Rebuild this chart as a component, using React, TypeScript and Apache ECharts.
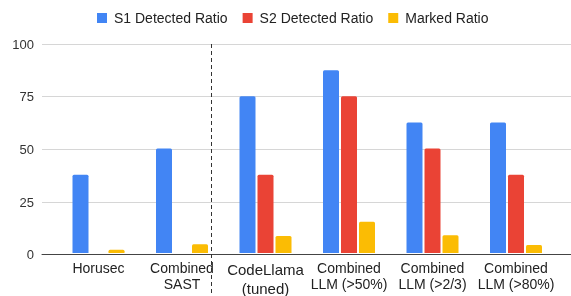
import React, { useEffect, useRef } from "react";
import * as echarts from "echarts";

const categories = [
  "Horusec",
  "Combined\nSAST",
  "CodeLlama\n(tuned)",
  "Combined\nLLM (>50%)",
  "Combined\nLLM (>2/3)",
  "Combined\nLLM (>80%)",
];
const s1Detected = [37.5, 50, 75, 87.5, 62.5, 62.5];
const s2Detected = [0, 0, 37.5, 75, 50, 37.5];
const markedRatio = [1.6, 4.2, 8.1, 15, 8.5, 3.8];
const yTicks = [0, 25, 50, 75, 100];

export default function App() {
  const ref = useRef<HTMLDivElement>(null);
  useEffect(() => {
    if (!ref.current) return;
    const chart = echarts.init(ref.current, undefined, { renderer: "svg" });
    const top = 44;
    const height = 210.7;
    chart.setOption({
      animation: false,
      textStyle: { fontFamily: "'Liberation Sans', Arial, sans-serif" },
      legend: {
        top: 6,
        left: 92,
        itemWidth: 10,
        itemHeight: 10,
        itemGap: 15,
        icon: "rect",
        textStyle: { fontSize: 14, color: "#222", padding: [0, 0, 0, 2] },
        data: ["S1 Detected Ratio", "S2 Detected Ratio", "Marked Ratio"],
      },
      grid: [
        { left: 42, right: 0, top, height, containLabel: false },
        { left: 56.75, width: 501, top, height, containLabel: false },
      ],
      xAxis: [
        {
          gridIndex: 0,
          type: "value",
          min: 0,
          max: 1,
          axisLine: { show: true, onZero: false, lineStyle: { color: "#444", width: 1 } },
          axisTick: { show: false },
          axisLabel: { show: false },
          splitLine: { show: false },
        },
        {
          gridIndex: 1,
          type: "category",
          data: categories,
          axisLine: { show: false },
          axisTick: { show: false },
          axisLabel: {
            margin: 7,
            color: "#222",
            interval: 0,
            formatter: (v: string) =>
              v.startsWith("CodeLlama")
                ? v
                    .split("\n")
                    .map((s) => "{b|" + s + "}")
                    .join("\n")
                : v
                    .split("\n")
                    .map((s) => "{a|" + s + "}")
                    .join("\n"),
            rich: {
              a: { fontSize: 14, lineHeight: 16, color: "#222" },
              b: { fontSize: 15, lineHeight: 19, color: "#222" },
            },
          },
        },
      ],
      yAxis: [
        {
          gridIndex: 0,
          type: "value",
          min: 0,
          max: 100,
          interval: 25,
          axisLine: { show: false },
          axisTick: { show: false },
          axisLabel: {
            margin: 8,
            fontSize: 13,
            color: "#333",
            formatter: (v: number) => (yTicks.includes(v) ? String(v) : ""),
          },
          splitLine: { show: true, lineStyle: { color: "#d6d6d6", width: 1 } },
        },
        {
          gridIndex: 1,
          type: "value",
          min: 0,
          max: 100,
          show: false,
        },
      ],
      series: [
        {
          name: "S1 Detected Ratio",
          type: "bar",
          xAxisIndex: 1,
          yAxisIndex: 1,
          data: s1Detected,
          barWidth: 16,
          barGap: "12.5%",
          itemStyle: { color: "#4285F4", borderRadius: [1.5, 1.5, 0, 0] },
        },
        {
          name: "S2 Detected Ratio",
          type: "bar",
          xAxisIndex: 1,
          yAxisIndex: 1,
          data: s2Detected,
          barWidth: 16,
          barGap: "12.5%",
          itemStyle: { color: "#EA4335", borderRadius: [1.5, 1.5, 0, 0] },
        },
        {
          name: "Marked Ratio",
          type: "bar",
          xAxisIndex: 1,
          yAxisIndex: 1,
          data: markedRatio,
          barWidth: 16,
          barGap: "12.5%",
          itemStyle: { color: "#FBBC04", borderRadius: [1.5, 1.5, 0, 0] },
        },
      ],
      graphic: [
        {
          type: "line",
          shape: { x1: 211.5, y1: 44, x2: 211.5, y2: 296 },
          style: { stroke: "#333", lineWidth: 1, lineDash: [4, 3] },
          z: 10,
        },
      ],
    });
    return () => chart.dispose();
  }, []);
  return (
    <div
      ref={ref}
      style={{ position: "fixed", left: 0, top: 0, width: 571, height: 296 }}
    />
  );
}
